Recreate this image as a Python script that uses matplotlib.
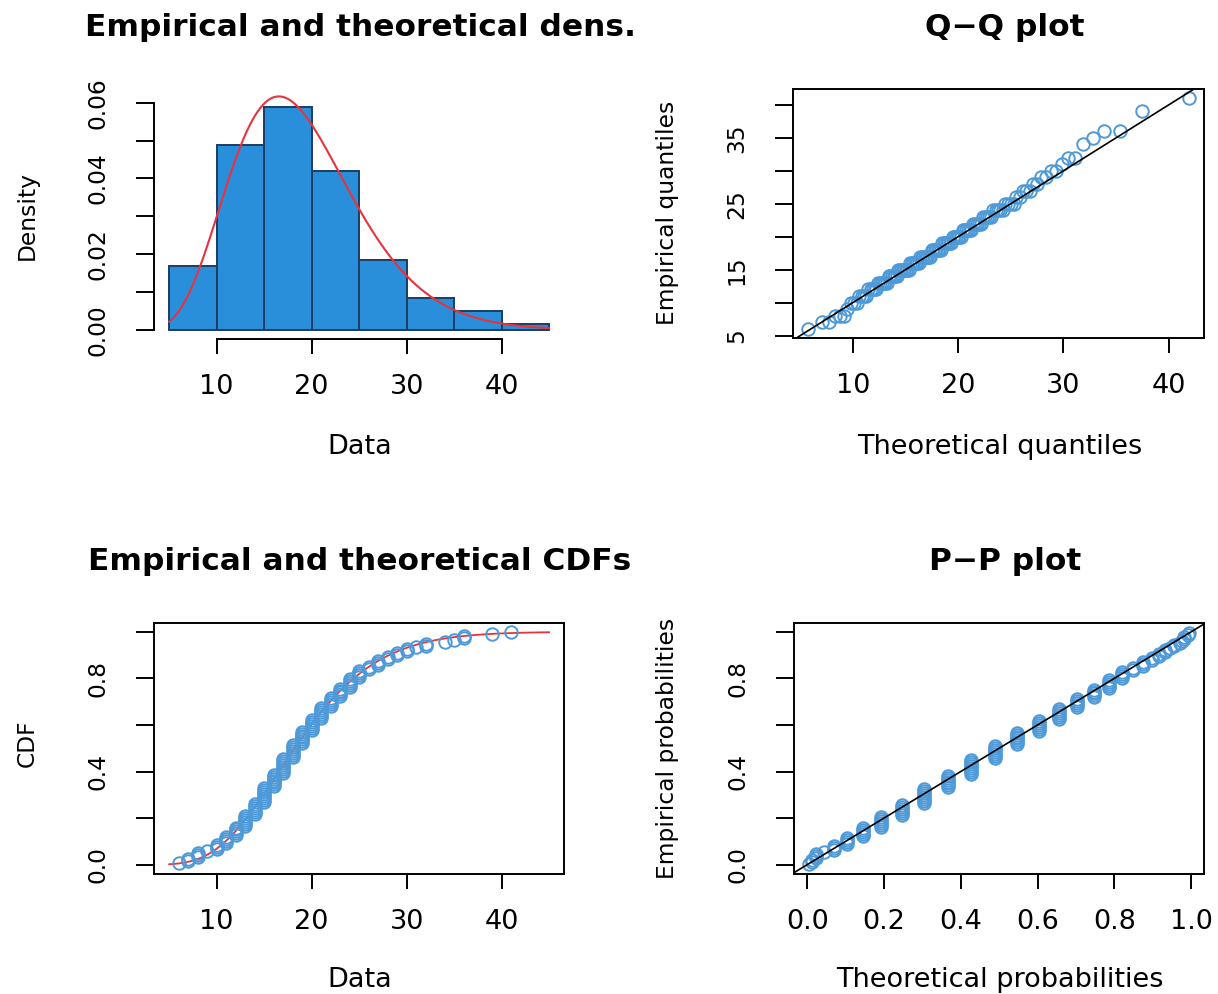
import math
import matplotlib
matplotlib.use('Agg')
import matplotlib.pyplot as plt
import numpy as np

plt.rcParams['font.family'] = 'DejaVu Sans'

# observed values (integers) and how often each occurs
values = [6, 7, 8, 9, 10, 11, 12, 13, 14, 15, 16, 17, 18, 19, 20,
          21, 22, 23, 24, 25, 26, 27, 28, 29, 30, 31, 32, 34, 35, 36, 39, 41]
counts = [1, 2, 3, 1, 3, 4, 5, 6, 6, 8, 7, 8, 7, 7, 6,
          6, 5, 5, 5, 4, 2, 3, 2, 2, 2, 1, 2, 1, 1, 2, 1, 1]

# fitted gamma distribution
gamma_shape = 7.7
gamma_rate = 0.405

hist_breaks = [5, 10, 15, 20, 25, 30, 35, 40, 45]

data = np.sort(np.repeat(values, counts)).astype(float)
n = len(data)
scale = 1.0 / gamma_rate


def gamma_pdf(x):
    x = np.asarray(x, dtype=float)
    return np.exp((gamma_shape - 1) * np.log(x) - x / scale
                  - math.lgamma(gamma_shape) - gamma_shape * math.log(scale))


def gamma_cdf(x):
    z = np.asarray(x, dtype=float) / scale
    term = np.ones_like(z)
    tot = np.ones_like(z)
    for k in range(1, 300):
        term = term * z / (gamma_shape + k)
        tot = tot + term
    return np.exp(gamma_shape * np.log(z) - z - math.lgamma(gamma_shape + 1)) * tot


def gamma_quantile(p):
    grid = np.linspace(0.01, 90, 40000)
    return np.interp(p, gamma_cdf(grid), grid)


def rpad(lo, hi):
    d = 0.04 * (hi - lo)
    return lo - d, hi + d


W, H = 1218, 994
fig = plt.figure(figsize=(W / 100, H / 100), dpi=100)


def make_ax(left, top, right, bottom):
    return fig.add_axes([left / W, 1 - bottom / H, (right - left) / W, (bottom - top) / H])


BAR = '#2A8FDA'
PT = '#4E9AD8'
RED = '#E8333F'
FS = 19.5      # horizontal text
FSV = 16.8     # rotated text
lw_ax = 1.4
MS = 9


def style(ax):
    for s in ax.spines.values():
        s.set_linewidth(lw_ax)
    ax.tick_params(axis='x', length=11, width=lw_ax, pad=14, labelsize=FS)
    ax.tick_params(axis='y', length=13, width=lw_ax, pad=19, labelsize=FSV, labelrotation=90)
    for lab in ax.get_yticklabels():
        lab.set_va('center')


# ---- density
ax1 = make_ax(154, 87.5, 564.3, 339.3)
edges = np.array(hist_breaks, dtype=float)
idx = np.searchsorted(edges, data, side='left') - 1   # right-closed bins like R
cnt = np.bincount(idx, minlength=len(edges) - 1)
dens = cnt / (n * np.diff(edges))
ax1.bar(edges[:-1], dens, width=np.diff(edges), align='edge', color=BAR,
        edgecolor='#1B3D63', linewidth=1.4)
xs = np.linspace(edges[0], edges[-1], 400)
ax1.plot(xs, gamma_pdf(xs), color=RED, lw=1.5)
ax1.set_xlim(3.4, 46.6)
ax1.set_ylim(-0.00246, 0.064)
ax1.spines['top'].set_visible(False)
ax1.spines['right'].set_visible(False)
ax1.spines['left'].set_bounds(0, 0.06)
ax1.spines['bottom'].set_bounds(10, 40)
ax1.set_xticks([10, 20, 30, 40])
ax1.set_yticks([0, 0.01, 0.02, 0.03, 0.04, 0.05, 0.06])
ax1.set_yticklabels(['0.00', '', '0.02', '', '0.04', '', '0.06'])
style(ax1)

# ---- Q-Q
ax2 = make_ax(793, 89, 1204, 338.3)
ppts = (np.arange(1, n + 1) - 0.5) / n
tq = gamma_quantile(ppts)
ax2.plot(tq, data, 'o', mfc='none', mec=PT, ms=MS, mew=1.4)
ax2.axline((0, 0), slope=1, color='black', lw=1.2)
ax2.set_xlim(*rpad(tq.min(), tq.max()))
ax2.set_ylim(*rpad(data.min(), data.max()))
ax2.set_xticks([10, 20, 30, 40])
ax2.set_yticks([5, 10, 15, 20, 25, 30, 35, 40])
ax2.set_yticklabels(['5', '', '15', '', '25', '', '35', ''])
style(ax2)

# ---- CDF
ax3 = make_ax(154, 622.5, 564.3, 874)
xs = np.linspace(edges[0], edges[-1], 400)
ax3.plot(xs, gamma_cdf(xs), color=RED, lw=1.3)
ax3.plot(data, np.arange(1, n + 1) / n, 'o', mfc='none', mec=PT, ms=MS, mew=1.4)
ax3.set_xlim(3.4, 46.6)
ax3.set_ylim(-0.04, 1.04)
ax3.set_xticks([10, 20, 30, 40])
ax3.set_yticks([0, 0.2, 0.4, 0.6, 0.8, 1.0])
ax3.set_yticklabels(['0.0', '', '0.4', '', '0.8', ''])
style(ax3)

# ---- P-P
ax4 = make_ax(794, 622.5, 1204.3, 874)
tp = gamma_cdf(data)
ax4.plot(tp, ppts, 'o', mfc='none', mec=PT, ms=MS, mew=1.4)
ax4.axline((0, 0), slope=1, color='black', lw=1.2)
ax4.set_xlim(*rpad(tp.min(), tp.max()))
ax4.set_ylim(-0.04, 1.04)
ax4.set_xticks([0, 0.2, 0.4, 0.6, 0.8, 1.0])
ax4.set_xticklabels(['0.0', '0.2', '0.4', '0.6', '0.8', '1.0'])
ax4.set_yticks([0, 0.2, 0.4, 0.6, 0.8, 1.0])
ax4.set_yticklabels(['0.0', '', '0.4', '', '0.8', ''])
style(ax4)


def ftext(x, y, s, **kw):
    fig.text(x / W, 1 - y / H, s, ha='center', va='center', **kw)


# titles
ftext(360, 28, 'Empirical and theoretical dens.', fontsize=22.5, fontweight='bold')
ftext(1005, 28, 'Q\u2212Q plot', fontsize=22.5, fontweight='bold')
ftext(360, 561, 'Empirical and theoretical CDFs', fontsize=22.5, fontweight='bold')
ftext(1005, 561, 'P\u2212P plot', fontsize=22.5, fontweight='bold')

# axis labels
ftext(360, 447, 'Data', fontsize=FS)
ftext(1000, 447, 'Theoretical quantiles', fontsize=FS)
ftext(360, 980, 'Data', fontsize=FS)
ftext(1000, 980, 'Theoretical probabilities', fontsize=FS)
ftext(27, 215, 'Density', fontsize=FSV, rotation=90)
ftext(667, 213, 'Empirical quantiles', fontsize=FSV, rotation=90)
ftext(27, 743, 'CDF', fontsize=FSV, rotation=90)
ftext(667, 748, 'Empirical probabilities', fontsize=FSV, rotation=90)

fig.savefig('out.png', dpi=100)
